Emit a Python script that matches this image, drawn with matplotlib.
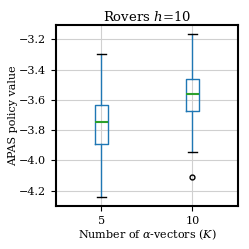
import matplotlib
matplotlib.use("Agg")
import matplotlib.pyplot as plt

plt.rcParams["font.family"] = "DejaVu Serif"
plt.rcParams["mathtext.fontset"] = "dejavuserif"

labels = ["5", "10"]
whislo = [-4.245, -3.946]
q1 = [-3.889, -3.673]
med = [-3.746, -3.559]
q3 = [-3.634, -3.465]
whishi = [-3.298, -3.162]
fliers = [[], [-4.111]]

stats = []
for i in range(len(labels)):
    stats.append({
        "label": labels[i],
        "whislo": whislo[i],
        "q1": q1[i],
        "med": med[i],
        "q3": q3[i],
        "whishi": whishi[i],
        "fliers": fliers[i],
    })

fig = plt.figure(figsize=(2.49, 2.49), dpi=100)
ax = fig.add_axes([0.225, 0.173, 0.73, 0.727])

ax.bxp(stats, capwidths=0.1,
       boxprops=dict(color="#1f77b4"),
       whiskerprops=dict(color="#1f77b4"),
       medianprops=dict(color="#2ca02c", linewidth=1.5),
       capprops=dict(color="k"),
       flierprops=dict(marker="o", markerfacecolor="none", markeredgecolor="k",
                       markersize=3.5))

ax.grid(True, color="#d0d0d0", linewidth=0.8)
ax.set_axisbelow(True)
for s in ax.spines.values():
    s.set_linewidth(1.5)

ax.set_ylim(-4.301, -3.104)
ax.set_yticks([-4.2, -4.0, -3.8, -3.6, -3.4, -3.2])
ax.tick_params(labelsize=8)
ax.set_title("Rovers $h$=10", fontsize=9.5, pad=3)
ax.set_xlabel(r"Number of $\alpha$-vectors ($K$)", fontsize=8, labelpad=1)
ax.set_ylabel("APAS policy value", fontsize=8, labelpad=1)

fig.savefig("out.png", dpi=100)
